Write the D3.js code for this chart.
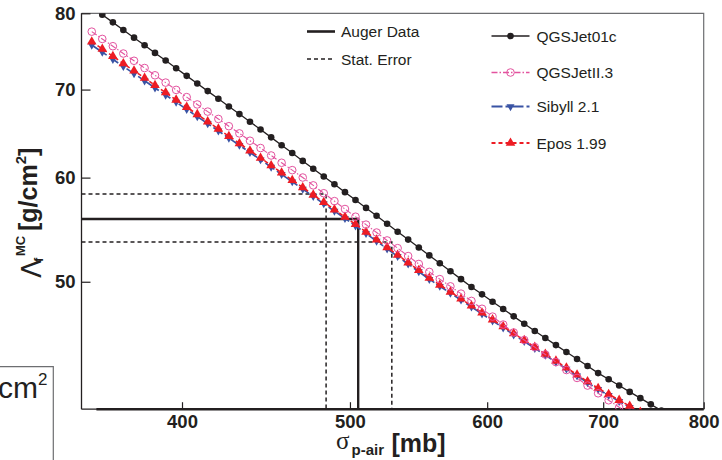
<!DOCTYPE html>
<html lang="en">
<head>
<meta charset="UTF-8" />
<title>Lambda_f vs sigma p-air</title>
<style>
  body { margin: 0; background: #fff; }
  svg { display: block; font-family: "Liberation Sans", Arial, sans-serif; }
  .tick line { stroke: #231f20; stroke-width: 1.2; }
  .tick text { font-weight: bold; font-size: 18.5px; fill: #231f20; }
</style>
</head>
<body>
<div class="chart"></div>
<script src="https://d3js.org/d3.v7.min.js"></script>
<script>
// sigma p-air grid [mb], shared by all models
const sigma = [354.8, 359.8, 364.9, 370.0, 375.3, 380.6, 385.9, 391.4, 396.9, 402.5,
  408.2, 413.9, 419.8, 425.7, 431.7, 437.8, 444.0, 450.3, 456.6, 463.1,
  469.6, 476.2, 482.9, 489.8, 496.7, 503.7, 510.8, 518.0, 525.3, 532.7,
  540.2, 547.9, 555.6, 563.4, 571.4, 579.5, 587.6, 595.9, 604.3, 612.9,
  621.5, 630.3, 639.2, 648.2, 657.4, 666.6, 676.1, 685.6, 695.3, 705.1,
  715.0, 725.1, 735.4, 745.7, 756.3];

// Lambda_f^MC [g/cm2] per model (null = no point)
const qgsjet01c = [null, 79.80, 78.74, 77.70, 76.66, 75.64, 74.64, 73.65, 72.67, 71.70,
  70.75, 69.81, 68.88, 67.96, 67.06, 66.17, 65.27, 64.38, 63.50, 62.64,
  61.78, 60.94, 60.11, 59.30, 58.49, 57.69, 56.90, 56.12, 55.34, 54.58,
  53.83, 53.09, 52.36, 51.64, 50.93, 50.23, 49.54, 48.91, 48.28, 47.67,
  47.06, 46.46, 45.87, 45.31, 44.75, 44.21, 43.67, 43.14, 42.61, 42.15,
  41.69, 41.23, 40.78, 40.34, 39.90];
const qgsjetII3 = [77.47, 76.49, 75.52, 74.56, 73.62, 72.69, 71.77, 70.86, 69.96, 69.08,
  68.20, 67.35, 66.49, 65.65, 64.83, 64.00, 63.19, 62.37, 61.58, 60.79,
  60.01, 59.19, 58.38, 57.58, 56.79, 56.03, 55.26, 54.50, 53.75, 53.03,
  52.30, 51.58, 50.87, 50.23, 49.60, 48.97, 48.35, 47.69, 47.04, 46.39,
  45.75, 45.15, 44.59, 44.02, 43.44, 42.84, 42.25, 41.69, 41.13, 40.63,
  40.14, 39.66, null, null, null];
const sibyll21 = [75.68, 74.74, 73.81, 72.89, 71.98, 71.09, 70.20, 69.33, 68.47, 67.61,
  66.77, 65.94, 65.12, 64.30, 63.50, 62.70, 61.91, 61.12, 60.34, 59.57,
  58.81, 58.06, 57.32, 56.58, 55.86, 55.15, 54.41, 53.69, 52.97, 52.28,
  51.58, 50.89, 50.22, 49.61, 49.01, 48.43, 47.84, 47.26, 46.69, 46.13,
  45.57, 45.04, 44.50, 43.97, 43.44, 42.92, 42.40, 41.91, 41.41, 40.98,
  40.56, 40.14, 39.72, null, null];
const epos199 = [76.12, 75.16, 74.21, 73.27, 72.34, 71.43, 70.52, 69.63, 68.75, 67.88,
  67.02, 66.18, 65.34, 64.51, 63.70, 62.89, 62.09, 61.29, 60.51, 59.73,
  58.97, 58.21, 57.47, 56.73, 56.00, 55.29, 54.55, 53.82, 53.10, 52.40,
  51.70, 51.01, 50.33, 49.72, 49.12, 48.53, 47.94, 47.36, 46.79, 46.23,
  45.67, 45.13, 44.59, 44.06, 43.53, 43.01, 42.49, 41.99, 41.49, 41.06,
  40.64, 40.22, 39.80, null, null];

// Auger measurement and stat. error corners [sigma, Lambda]
const augerPoint = [505.5, 55.8];
const statErrA = [484.4, 58.3];
const statErrB = [528.6, 53.6];

const xTicks = [400, 500, 600, 700, 800];
const yTicks = [50, 60, 70, 80];

const W = 722, H = 460;
const svg = d3.select(".chart").append("svg").attr("width", W).attr("height", H);

// log-log axes
const x = d3.scaleLog().domain([350, 800]).range([81.5, 703.7]);
const y = d3.scaleLog().domain([40, 80]).range([409.2, 13.3]);

svg.append("defs").append("clipPath").attr("id", "plot")
  .append("rect")
  .attr("x", x(350)).attr("y", y(80))
  .attr("width", x(800) - x(350)).attr("height", y(40) - y(80));

// frame: thin grey top/right
svg.append("path")
  .attr("d", `M${x(350)},${y(80)}H${x(800)}V${y(40)}`)
  .attr("fill", "none").attr("stroke", "#6d6e71").attr("stroke-width", 1.2);

// axes
const xAxis = svg.append("g")
  .attr("transform", `translate(0,${y(40)})`)
  .call(d3.axisBottom(x).tickValues(xTicks).tickFormat(d3.format("d"))
    .tickSizeInner(-7).tickSizeOuter(0).tickPadding(6));
const yAxis = svg.append("g")
  .attr("transform", `translate(${x(350)},0)`)
  .call(d3.axisLeft(y).tickValues(yTicks).tickFormat(d3.format("d"))
    .tickSizeInner(-9).tickSizeOuter(0).tickPadding(6));
xAxis.select(".domain").remove();
yAxis.select(".domain").remove();
xAxis.selectAll("text").attr("font-family", null).attr("font-size", null);
yAxis.selectAll("text").attr("font-family", null).attr("font-size", null);
svg.selectAll(".tick text").attr("fill", "#231f20");

svg.append("line")
  .attr("x1", x(350)).attr("x2", x(350)).attr("y1", y(80)).attr("y2", y(40))
  .attr("stroke", "#231f20").attr("stroke-width", 1.3);
svg.append("line")
  .attr("x1", x(350)).attr("x2", x(800)).attr("y1", y(40)).attr("y2", y(40))
  .attr("stroke", "#231f20").attr("stroke-width", 1.2);
svg.append("line")
  .attr("x1", x(357)).attr("x2", x(800)).attr("y1", y(40)).attr("y2", y(40))
  .attr("stroke", "#231f20").attr("stroke-width", 2.4);

const plot = svg.append("g").attr("clip-path", "url(#plot)");

// Auger data + stat. error
const ink = "#231f20";
plot.append("path")
  .attr("d", d3.line()([[x(350), y(augerPoint[1])], [x(augerPoint[0]), y(augerPoint[1])], [x(augerPoint[0]), y(40)]]))
  .attr("fill", "none").attr("stroke", ink).attr("stroke-width", 2.4);
[statErrA, statErrB].forEach(p => {
  plot.append("path")
    .attr("d", d3.line()([[x(350), y(p[1])], [x(p[0]), y(p[1])], [x(p[0]), y(40)]]))
    .attr("fill", "none").attr("stroke", ink).attr("stroke-width", 1.5)
    .attr("stroke-dasharray", "4,3");
});

const series = [
  { name: "Sibyll 2.1", values: sibyll21, color: "#3953a4", width: 1.7, dash: "11,3,4,3", marker: "down" },
  { name: "Epos 1.99", values: epos199, color: "#ed1c24", width: 1.6, dash: "4,3", marker: "up" },
  { name: "QGSJetII.3", values: qgsjetII3, color: "#e3539f", width: 1.1, dash: "6,2,1.5,2", marker: "ring" },
  { name: "QGSJet01c", values: qgsjet01c, color: "#231f20", width: 1.3, dash: null, marker: "dot" },
];

const line = d3.line()
  .defined(d => d[1] != null)
  .x(d => x(d[0]))
  .y(d => y(d[1]));

function drawMarker(g, type, color) {
  if (type === "dot") {
    g.append("circle").attr("r", 3.3).attr("fill", color);
  } else if (type === "ring") {
    g.append("circle").attr("r", 3.8).attr("fill", "none").attr("stroke", color).attr("stroke-width", 1);
  } else if (type === "up") {
    g.append("path").attr("d", d3.symbol(d3.symbolTriangle, 40)()).attr("fill", color);
  } else if (type === "down") {
    g.append("path").attr("d", d3.symbol(d3.symbolTriangle, 28)())
      .attr("transform", "rotate(180)").attr("fill", color);
  }
}

series.forEach(s => {
  const pts = sigma.map((sg, i) => [sg, s.values[i]]);
  plot.append("path")
    .datum(pts)
    .attr("d", line)
    .attr("fill", "none")
    .attr("stroke", s.color)
    .attr("stroke-width", s.width)
    .attr("stroke-dasharray", s.dash);
  plot.append("g")
    .selectAll("g")
    .data(pts.filter(d => d[1] != null))
    .join("g")
    .attr("transform", d => `translate(${x(d[0])},${y(d[1])})`)
    .each(function () { drawMarker(d3.select(this), s.marker, s.color); });
});

// legend: Auger
const legA = svg.append("g").attr("font-size", "15.5px").attr("fill", ink);
legA.append("line").attr("x1", 307).attr("x2", 335).attr("y1", 31.5).attr("y2", 31.5)
  .attr("stroke", ink).attr("stroke-width", 2.6);
legA.append("text").attr("x", 341).attr("y", 37).text("Auger Data");
legA.append("line").attr("x1", 307).attr("x2", 335).attr("y1", 59).attr("y2", 59)
  .attr("stroke", ink).attr("stroke-width", 1.5).attr("stroke-dasharray", "4,3");
legA.append("text").attr("x", 341).attr("y", 64.5).text("Stat. Error");

// legend: models
const legOrder = ["QGSJet01c", "QGSJetII.3", "Sibyll 2.1", "Epos 1.99"];
const legY = [36, 72.5, 106.5, 143];
legOrder.forEach((n, i) => {
  const s = series.find(d => d.name === n);
  const g = svg.append("g").attr("transform", `translate(0,${legY[i]})`);
  g.append("line").attr("x1", 491.5).attr("x2", 529.5)
    .attr("stroke", s.color).attr("stroke-width", s.width + 0.3)
    .attr("stroke-dasharray", s.dash);
  const m = g.append("g").attr("transform", "translate(510.5,0)");
  drawMarker(m, s.marker, s.color);
  g.append("text").attr("x", 536.5).attr("y", 5.5).attr("font-size", "15.5px")
    .attr("fill", ink).text(n);
});

// y label
const yl = svg.append("g").attr("transform", "translate(41,0) rotate(-90)").attr("fill", ink);
yl.append("text").attr("x", -278).attr("y", 0).attr("font-size", "27px")
  .attr("font-family", "DejaVu Sans").text("Λ");
yl.append("text").attr("x", -262).attr("y", 2).attr("font-size", "13px")
  .attr("font-weight", "bold").text("f");
yl.append("text").attr("x", -256).attr("y", -16).attr("font-size", "13px")
  .attr("font-weight", "bold").text("MC");
const ylt = yl.append("text").attr("x", -231).attr("y", -4).attr("font-size", "25px")
  .attr("font-weight", "bold");
ylt.append("tspan").text("[g/cm");
ylt.append("tspan").attr("dy", -11).attr("font-size", "15px").text("2");
ylt.append("tspan").attr("dy", 11).text("]");

// x label
svg.append("text").attr("x", 336).attr("y", 449).attr("fill", ink)
  .attr("font-family", "Liberation Serif").attr("font-size", "25px").text("σ");
svg.append("text").attr("x", 351.5).attr("y", 455).attr("fill", ink)
  .attr("font-size", "15px").attr("font-weight", "bold").text("p-air");
svg.append("text").attr("x", 391.5).attr("y", 451.5).attr("fill", ink)
  .attr("font-size", "25px").attr("font-weight", "bold").text("[mb]");

// stray corner of the neighbouring panel
svg.append("path").attr("d", "M0,366.7H53.3V460")
  .attr("fill", "none").attr("stroke", "#6d6e71").attr("stroke-width", 1.2);
const cm = svg.append("text").attr("x", -2).attr("y", 398).attr("fill", ink).attr("font-size", "30px");
cm.append("tspan").text("cm");
cm.append("tspan").attr("dy", -13).attr("font-size", "17px").text("2");
</script>
</body>
</html>
